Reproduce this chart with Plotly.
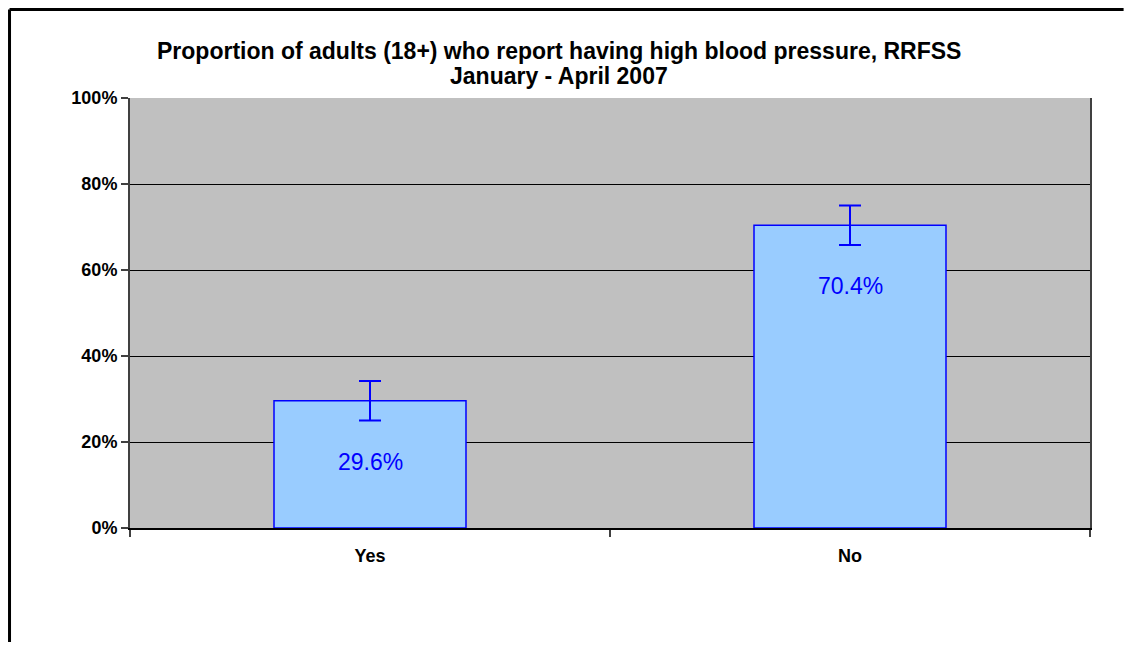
import plotly.graph_objects as go

# data
categories = ["Yes", "No"]
percent = [29.6, 70.4]
ci_half = [4.6, 4.6]
y_ticks = [0, 20, 40, 60, 80, 100]
y_tick_labels = [f"{t}%" for t in y_ticks]
title_lines = [
    "Proportion of adults (18+) who report having high blood pressure, RRFSS",
    "January - April 2007",
]

FONT = "Arial, Liberation Sans, sans-serif"

fig = go.Figure(
    go.Bar(
        x=categories,
        y=percent,
        width=0.4,
        marker=dict(color="#99CCFF", line=dict(color="#0000FF", width=1.5)),
        error_y=dict(type="data", array=ci_half, visible=True,
                     color="#0000FF", thickness=2, width=11),
        hoverinfo="skip",
    )
)

# value labels sit a fixed distance below the top of each bar
for cat, v in zip(categories, percent):
    fig.add_annotation(x=cat, y=v, text=f"{v:.1f}%", showarrow=False,
                       yshift=-61, yanchor="middle",
                       font=dict(family=FONT, size=23, color="#0000FF"))

# two-line bold title
for text, ypos in zip(title_lines, [1.109, 1.052]):
    fig.add_annotation(xref="paper", yref="paper", x=0.447, y=ypos,
                       text=f"<b>{text}</b>", showarrow=False,
                       xanchor="center", yanchor="middle",
                       font=dict(family=FONT, size=23, color="black"))

# outer chart border (only top and left edges fall inside the crop),
# kept inside the figure so the page does not overflow
border = dict(color="black", width=3)
fig.add_shape(type="line", xref="paper", yref="paper",
              x0=-0.1255, x1=1.035, y0=1.2058, y1=1.2058, line=border)
fig.add_shape(type="line", xref="paper", yref="paper",
              x0=-0.1255, x1=-0.1255, y0=1.2058, y1=-0.265, line=border)

# the page body adds 8px on every side; keep the page from overflowing
fig.update_layout(
    width=1119,
    height=635,
    margin=dict(l=122, r=37, t=90, b=115),
    paper_bgcolor="white",
    plot_bgcolor="#C0C0C0",
    showlegend=False,
    font=dict(family=FONT, color="black"),
    bargap=0.6,
)
fig.update_xaxes(
    showline=True, linecolor="black", linewidth=2,
    ticks="outside", tickson="boundaries", ticklen=7, tickcolor="#404040",
    tickwidth=2, ticklabelstandoff=10,
    tickfont=dict(family=FONT, size=18, color="black"),
    tickprefix="<b>", ticksuffix="</b>",
    showgrid=False,
)
fig.update_yaxes(
    range=[0, 100],
    tickvals=y_ticks, ticktext=[f"<b>{t}</b>" for t in y_tick_labels],
    tickfont=dict(family=FONT, size=18, color="black"),
    showline=True, linecolor="#404040", linewidth=2, mirror=True,
    ticks="outside", ticklen=7, tickcolor="#404040", tickwidth=2,
    showgrid=True, gridcolor="black", gridwidth=1,
    zeroline=False,
)

fig.write_html("out.html")
